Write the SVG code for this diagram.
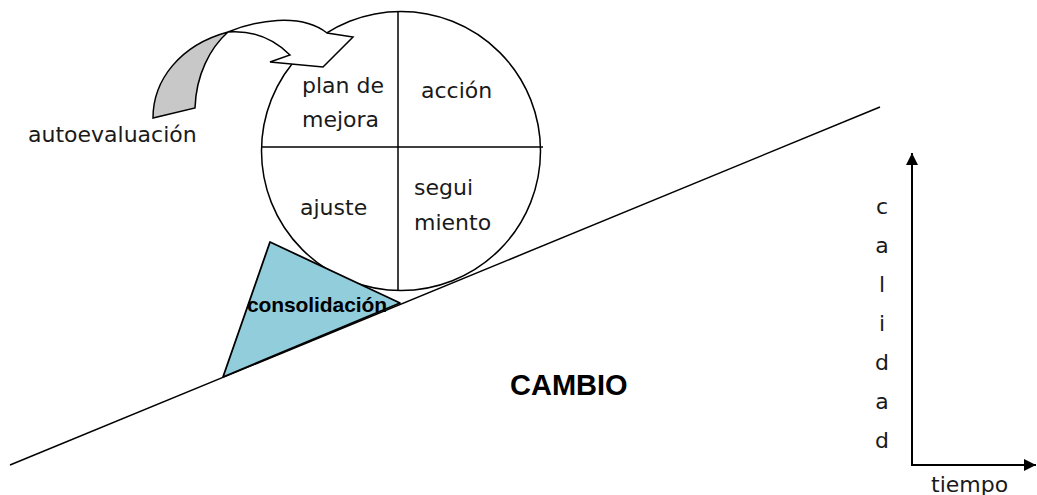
<svg xmlns="http://www.w3.org/2000/svg" width="1037" height="495" viewBox="0 0 1037 495">
<defs>
<style>
.t{font-family:"DejaVu Sans",sans-serif;font-size:22px;fill:#1a1a1a}
.b{font-family:"Liberation Sans",Arial,sans-serif;font-weight:bold;fill:#000}
.s{stroke:#000;stroke-width:1.5;fill:none}
</style>
<marker id="ah" viewBox="0 0 10 10" refX="10" refY="5" markerWidth="6" markerHeight="6" orient="auto" markerUnits="strokeWidth">
<path d="M0,0 L10,5 L0,10 Z" fill="#000"/>
</marker>
</defs>
<rect width="1037" height="495" fill="#fff"/>
<g id="connectors">
<line id="slope" x1="10" y1="465" x2="880" y2="107" class="s" stroke-width="1.8"/>
<line id="axis-y" x1="912" y1="465" x2="912" y2="153" stroke="#000" stroke-width="2" marker-end="url(#ah)"/>
<line id="axis-x" x1="911" y1="465" x2="1036" y2="465" stroke="#000" stroke-width="2" marker-end="url(#ah)"/>
</g>
<g id="wheel">
<circle cx="401" cy="151" r="139.5" fill="#fff" class="s" style="fill:#fff"/>
<line x1="398" y1="12" x2="398" y2="291" class="s"/>
<line x1="262" y1="147" x2="543" y2="147" class="s"/>
</g>
<g id="plan-de-mejora"><text class="t" x="302" y="93">plan de</text><text class="t" x="302" y="127">mejora</text></g>
<g id="accion"><text class="t" x="421" y="98">acción</text></g>
<g id="ajuste"><text class="t" x="300" y="215">ajuste</text></g>
<g id="seguimiento"><text class="t" x="414" y="195">segui</text><text class="t" x="414" y="230">miento</text></g>
<g id="consolidacion">
<polygon points="270,242 223,377 400,303" fill="#92CDDC" stroke="#000" stroke-width="1.8" stroke-linejoin="round"/>
<text class="b" x="247" y="312" font-size="21" textLength="140">consolidación</text>
</g>
<g id="autoevaluacion">
<path d="M153,118 C153,80 180,45 228,32 C210,48 196,75 195,108 Z" fill="#C8C8C8" class="s" style="fill:#C8C8C8"/>
<path d="M228,32 C255,21 300,12 327,33 L353,37 L323,67 L270,62 L290,55 C275,40 255,30 228,32 Z" fill="#fff" class="s" style="fill:#fff" stroke-linejoin="miter"/>
<text class="t" x="28" y="142">autoevaluación</text>
</g>
<g id="cambio"><text class="b" x="510" y="395" font-size="29">CAMBIO</text></g>
<g id="calidad" class="t" text-anchor="middle">
<text x="882" y="214">c</text><text x="882" y="253">a</text><text x="882" y="292">l</text><text x="882" y="331">i</text><text x="882" y="370">d</text><text x="882" y="409">a</text><text x="882" y="448">d</text>
</g>
<g id="tiempo"><text class="t" x="931" y="492">tiempo</text></g>
</svg>
